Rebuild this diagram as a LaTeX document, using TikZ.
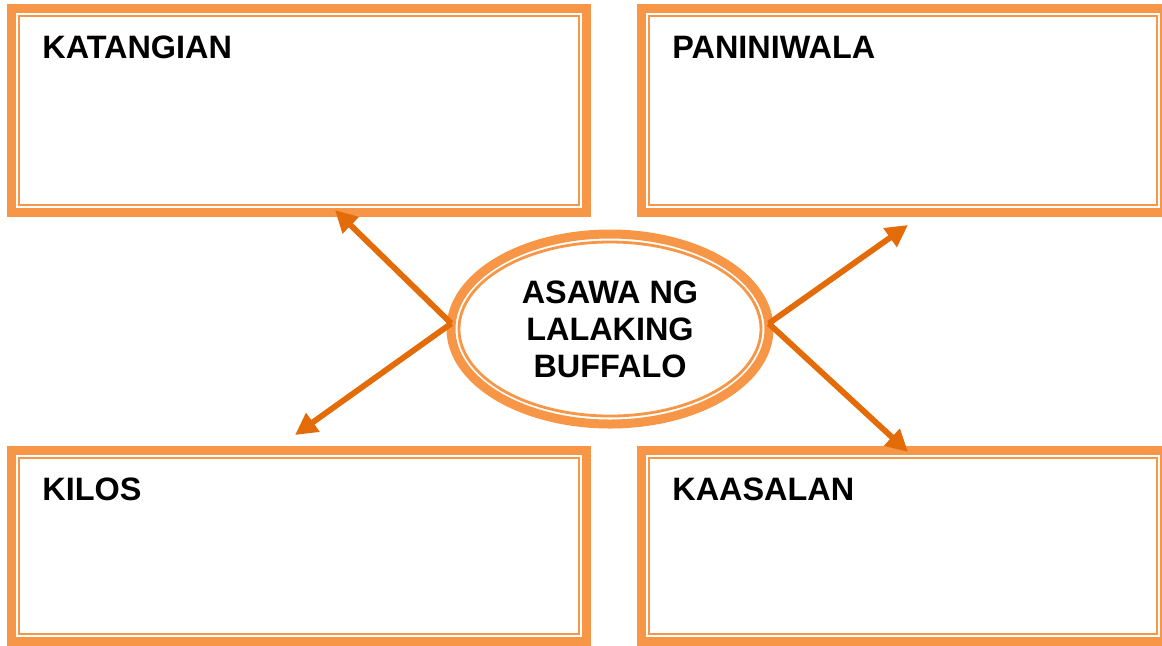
\documentclass[tikz,border=0pt]{standalone}
\usepackage{fontspec}
\setmainfont{Liberation Sans}
\usetikzlibrary{positioning,shapes.geometric,arrows.meta}
\definecolor{boxorange}{HTML}{F79646}
\definecolor{linkorange}{HTML}{E36C09}

\begin{document}
\begin{tikzpicture}
[x=0.5pt,y=-0.5pt,
 box/.style={rectangle,draw=boxorange,line width=4.5pt,inner sep=0pt,outer sep=0pt},
 rim/.style={draw=boxorange,line width=1.4pt},
 topic/.style={ellipse,draw=boxorange,line width=4.5pt,inner sep=0pt,outer sep=0pt,
   minimum width=159pt,minimum height=95pt,align=center,
   font=\fontsize{16.2}{18.5}\selectfont\bfseries},
 lbl/.style={anchor=base west,inner sep=0pt,font=\fontsize{16.2}{19}\selectfont\bfseries},
 link/.style={-{Triangle[length=11pt,width=11pt]},draw=linkorange,fill=linkorange,line width=2.9pt}]
\useasboundingbox (0,0) rectangle (1162,645);

\node[box,minimum width=287.5pt,minimum height=102pt] (katangian)  at (299,110.5) {};
\node[box,minimum width=261.5pt,minimum height=102pt] (paniniwala) at (903,110.5) {};
\node[box,minimum width=287.5pt,minimum height=95.5pt] (kilos)     at (299,546)   {};
\node[box,minimum width=261.5pt,minimum height=95.5pt] (kaasalan)  at (903,546)   {};

\draw[rim] ([shift={(7.5,7.5)}]katangian.north west)  rectangle ([shift={(-7.5,-7.5)}]katangian.south east);
\draw[rim] ([shift={(7.5,7.5)}]paniniwala.north west) rectangle ([shift={(-7.5,-7.5)}]paniniwala.south east);
\draw[rim] ([shift={(7.5,7.5)}]kilos.north west)      rectangle ([shift={(-7.5,-7.5)}]kilos.south east);
\draw[rim] ([shift={(7.5,7.5)}]kaasalan.north west)   rectangle ([shift={(-7.5,-7.5)}]kaasalan.south east);

\node[lbl] (katangianL)  at ([shift={(30.5,49.5)}]katangian.north west)  {KATANGIAN};
\node[lbl] (paniniwalaL) at ([shift={(30.5,49.5)}]paniniwala.north west) {PANINIWALA};
\node[lbl] (kilosL)      at ([shift={(30.5,49.5)}]kilos.north west)      {KILOS};
\node[lbl] (kaasalanL)   at ([shift={(30.5,49.5)}]kaasalan.north west)   {KAASALAN};

\node[topic] (asawa) at (610,329) {ASAWA NG\\LALAKING\\BUFFALO};
\draw[rim] (asawa.center) ellipse [x radius=75.5pt,y radius=43.5pt];

\coordinate (tipKat) at (335,210);
\coordinate (tipKil) at (295,435);
\coordinate (tipPan) at (908,225);
\coordinate (tipKaa) at (908,452);
\draw[link] (asawa.178) -- (tipKat);
\draw[link] (asawa.178) -- (tipKil);
\draw[link] (asawa.2)   -- (tipPan);
\draw[link] (asawa.2)   -- (tipKaa);
\end{tikzpicture}
\end{document}
